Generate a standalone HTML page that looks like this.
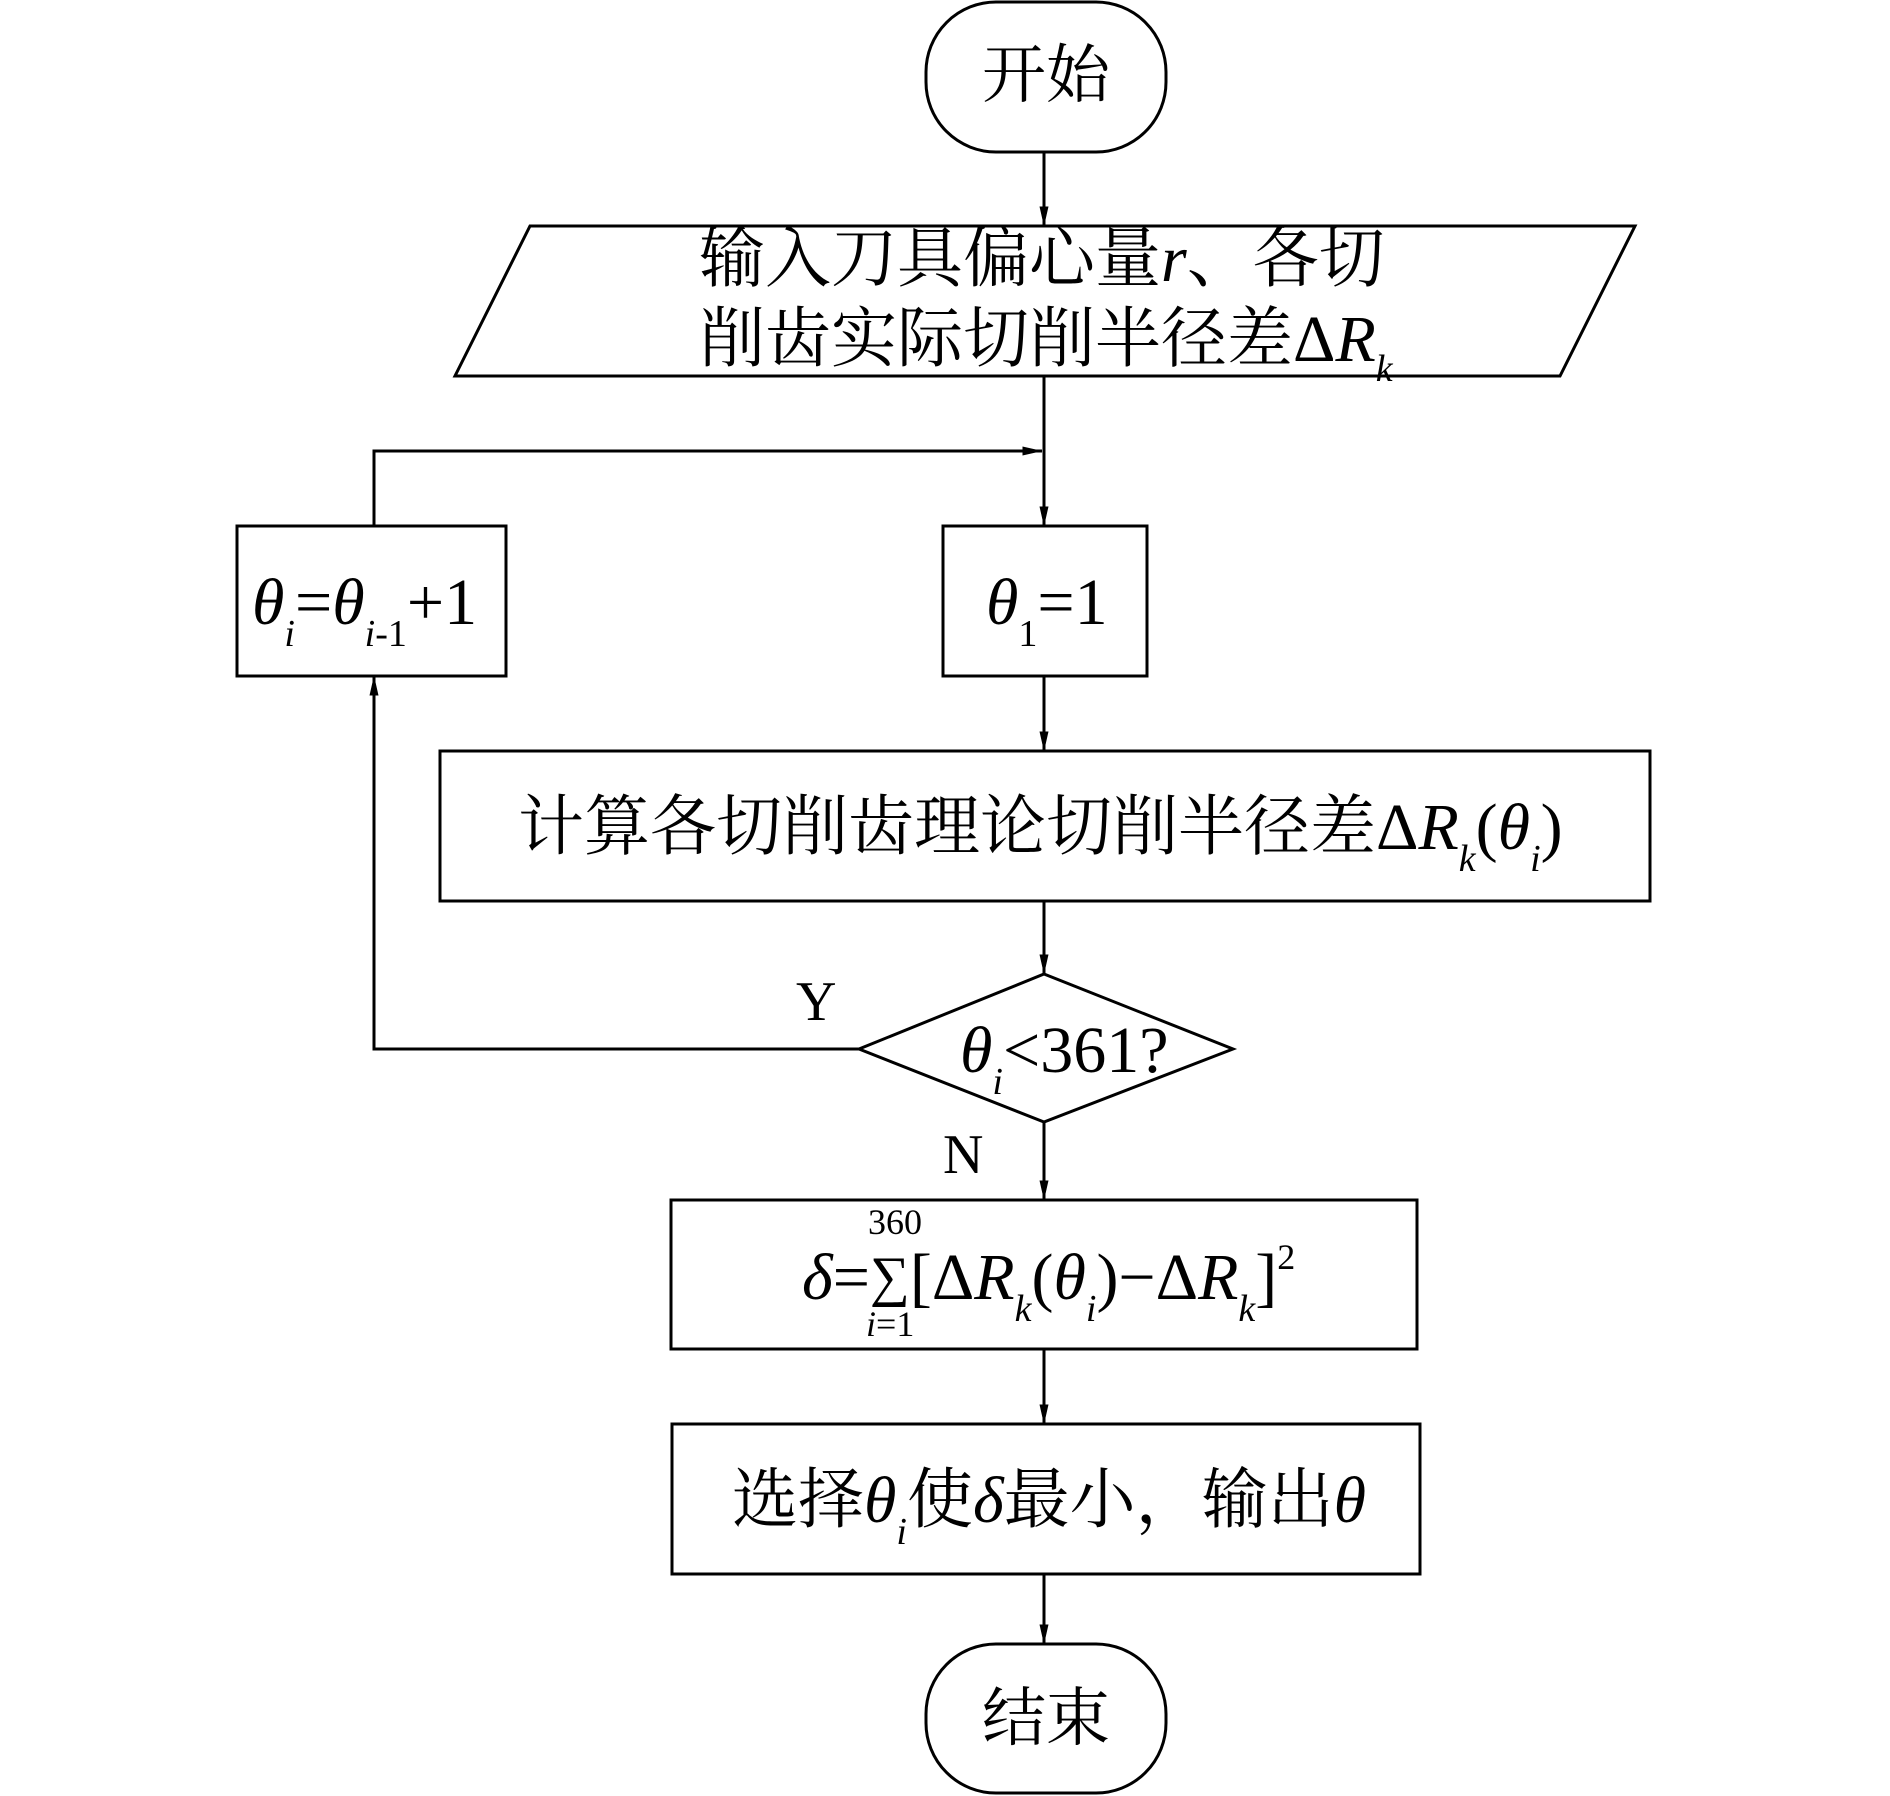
<!DOCTYPE html>
<html><head><meta charset="utf-8">
<style>
html,body{margin:0;padding:0;background:#fff;}
svg{display:block;}
text{font-family:"Liberation Serif","Noto Serif CJK SC","Noto Sans CJK SC",serif;fill:#000;}
.i{font-style:italic;}
</style></head>
<body>
<svg width="1890" height="1796" viewBox="0 0 1890 1796" xmlns="http://www.w3.org/2000/svg">
<defs>
<marker id="a" markerWidth="20" markerHeight="40" refX="39" refY="9" orient="auto" markerUnits="userSpaceOnUse" viewBox="0 0 40 18">
<path d="M0,0 L40,9 L0,18 Z" fill="#000"/>
</marker>
</defs>
<g fill="none" stroke="#000" stroke-width="3">
<!-- start -->
<rect x="926" y="2" width="240" height="150" rx="70" ry="70"/>
<!-- parallelogram -->
<polygon points="530,226 1635,226 1560,376 455,376"/>
<!-- boxes -->
<rect x="237" y="526" width="269" height="150"/>
<rect x="943" y="526" width="204" height="150"/>
<rect x="440" y="751" width="1210" height="150"/>
<polygon points="1044,974 1233,1049 1044,1122 859,1049"/>
<rect x="671" y="1200" width="746" height="149"/>
<rect x="672" y="1424" width="748" height="150"/>
<rect x="926" y="1644" width="240" height="149" rx="70" ry="70"/>
<!-- connectors -->
<line x1="1044" y1="152" x2="1044" y2="226" marker-end="url(#a)"/>
<line x1="1044" y1="376" x2="1044" y2="526" marker-end="url(#a)"/>
<line x1="1044" y1="676" x2="1044" y2="751" marker-end="url(#a)"/>
<line x1="1044" y1="901" x2="1044" y2="974" marker-end="url(#a)"/>
<line x1="1044" y1="1122" x2="1044" y2="1200" marker-end="url(#a)"/>
<line x1="1044" y1="1349" x2="1044" y2="1424" marker-end="url(#a)"/>
<line x1="1044" y1="1574" x2="1044" y2="1644" marker-end="url(#a)"/>
<polyline points="859,1049 374,1049 374,676" marker-end="url(#a)"/>
<polyline points="374,526 374,451 1042,451" marker-end="url(#a)"/>
</g>
<!-- texts -->
<text x="1046" y="97" font-size="64" text-anchor="middle">开始</text>
<text x="699" y="281" font-size="66">输入刀具偏心量<tspan class="i">r</tspan>、各切</text>
<text x="699" y="361" font-size="66">削齿实际切削半径差Δ<tspan class="i">R</tspan><tspan class="i" font-size="38" dy="20">k</tspan></text>
<text x="252" y="624" font-size="66"><tspan class="i">θ</tspan><tspan class="i" font-size="38" dy="22">i</tspan><tspan dy="-22">=</tspan><tspan class="i">θ</tspan><tspan class="i" font-size="38" dy="22">i</tspan><tspan font-size="38">-1</tspan><tspan dy="-22">+1</tspan></text>
<text x="986" y="624" font-size="66"><tspan class="i">θ</tspan><tspan font-size="38" dy="22">1</tspan><tspan dy="-22">=1</tspan></text>
<text x="518" y="849" font-size="66">计算各切削齿理论切削半径差Δ<tspan class="i">R</tspan><tspan class="i" font-size="38" dy="22">k</tspan><tspan dy="-22">(</tspan><tspan class="i">θ</tspan><tspan class="i" font-size="38" dy="22">i</tspan><tspan dy="-22">)</tspan></text>
<text x="796" y="1020" font-size="56">Y</text>
<text x="943" y="1173" font-size="56">N</text>
<text x="960" y="1072" font-size="66"><tspan class="i">θ</tspan><tspan class="i" font-size="38" dy="22">i</tspan><tspan dy="-22">&lt;361?</tspan></text>
<text x="868" y="1234" font-size="36">360</text>
<text x="866" y="1336" font-size="36"><tspan class="i">i</tspan>=1</text>
<text x="802" y="1299" font-size="66"><tspan class="i">δ</tspan>=<tspan font-size="56" dy="-4">∑</tspan><tspan dy="4">[Δ</tspan><tspan class="i">R</tspan><tspan class="i" font-size="38" dy="22">k</tspan><tspan dy="-22">(</tspan><tspan class="i">θ</tspan><tspan class="i" font-size="38" dy="22">i</tspan><tspan dy="-22">)−Δ</tspan><tspan class="i">R</tspan><tspan class="i" font-size="38" dy="22">k</tspan><tspan dy="-22">]</tspan><tspan font-size="36" dy="-30">2</tspan></text>
<text x="732" y="1522" font-size="66">选择<tspan class="i">θ</tspan><tspan class="i" font-size="38" dy="22">i</tspan><tspan dy="-22">使</tspan><tspan class="i">δ</tspan>最小，输出<tspan class="i">θ</tspan></text>
<text x="1046" y="1740" font-size="64" text-anchor="middle">结束</text>
</svg>
</body></html>
